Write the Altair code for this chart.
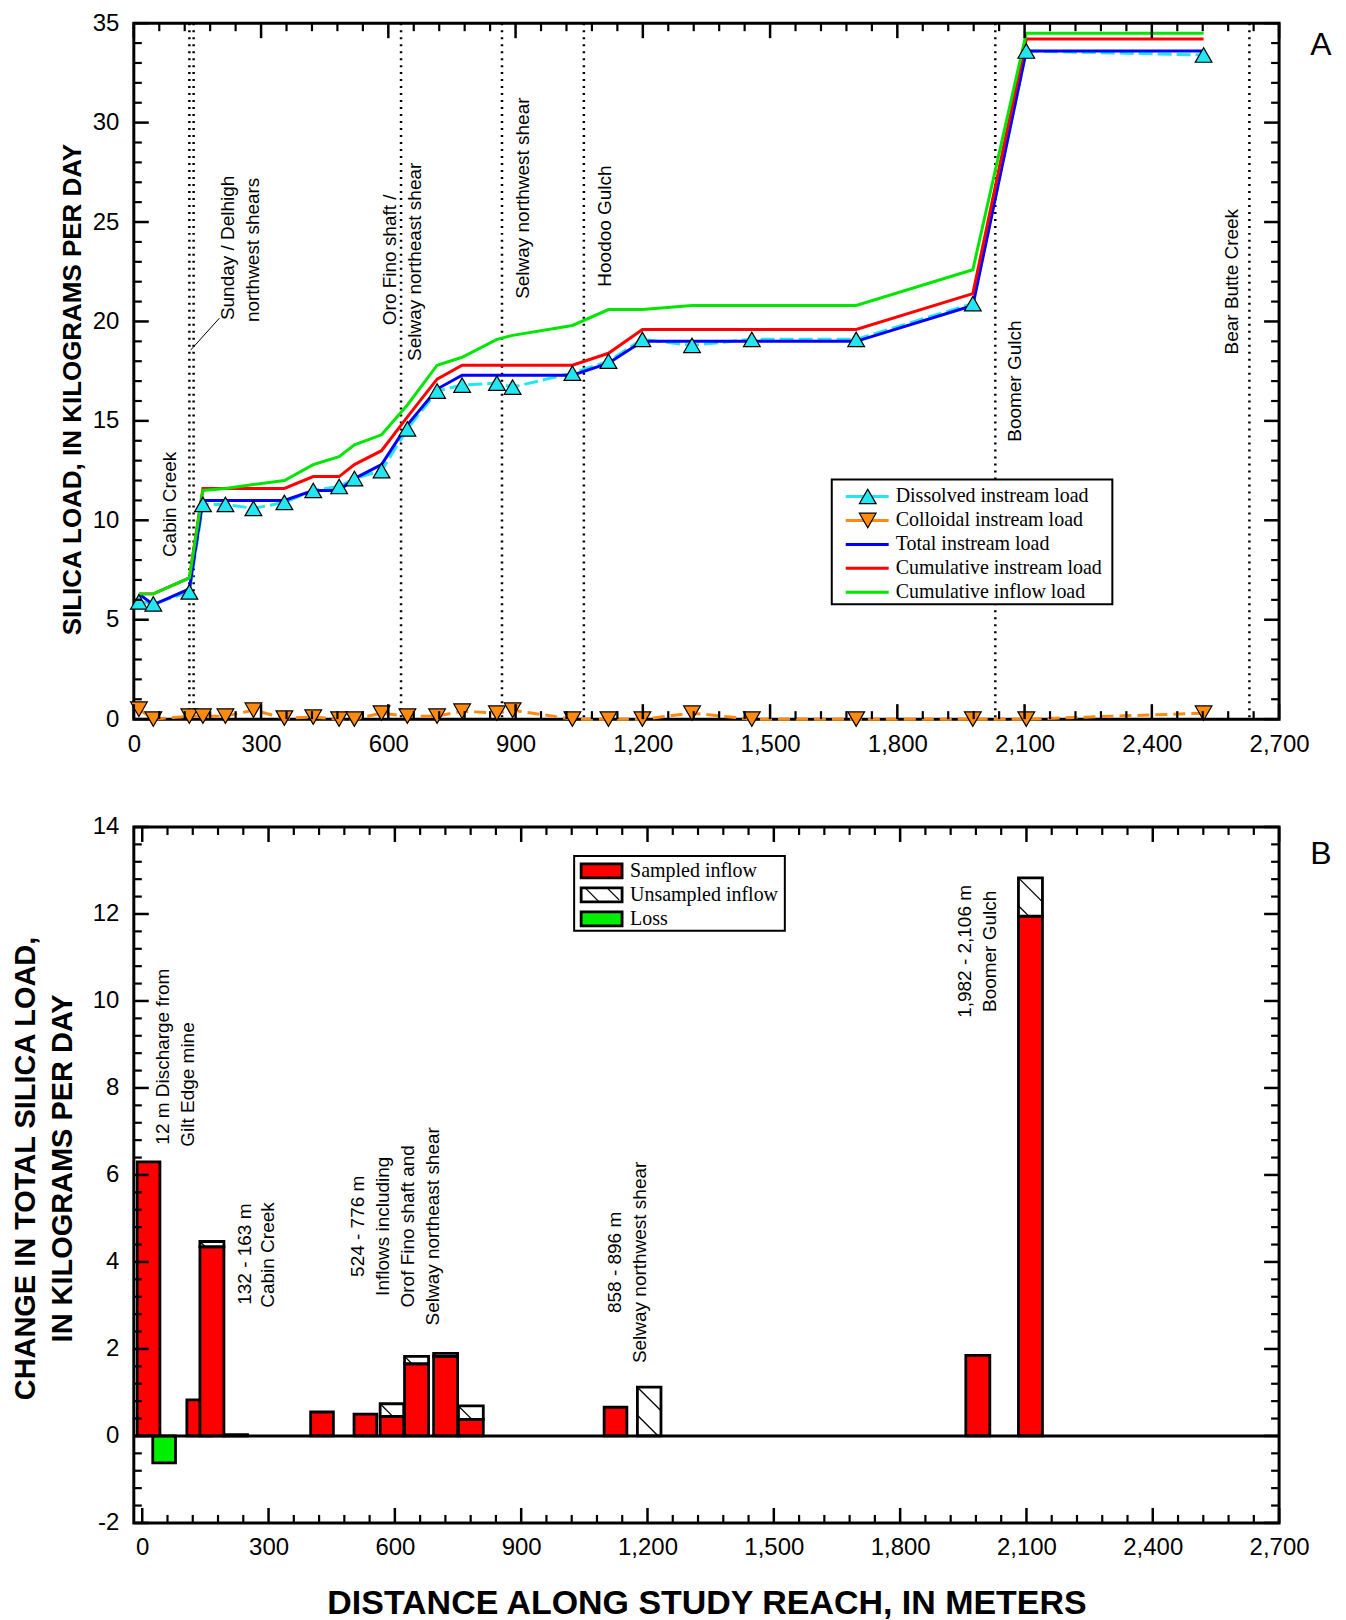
import math
import altair as alt
import pandas as pd

# ---------------- fonts / sizes ----------------
SANS = "Liberation Sans"
SERIF = "Liberation Serif"
W, H = 1147, 697

# ---------------- Panel A data ----------------
distance_m = [12, 46, 131, 163, 216, 282, 355, 423, 484, 520, 584, 645, 715,
              774, 856, 893, 1034, 1119, 1199, 1316, 1457, 1703, 1978, 2104, 2522]
dissolved = [5.9, 5.8, 6.4, 10.8, 10.8, 10.6, 10.9, 11.5, 11.7, 12.1, 12.5, 14.6, 16.5,
             16.8, 16.9, 16.7, 17.4, 18.0, 19.1, 18.8, 19.1, 19.1, 20.9, 33.6, 33.4]
colloidal = [0.5, 0.0, 0.15, 0.15, 0.15, 0.45, 0.05, 0.1, 0.0, 0.0, 0.3, 0.15, 0.15,
             0.4, 0.3, 0.45, 0.0, 0.0, 0.0, 0.3, 0.0, 0.0, 0.0, 0.0, 0.3]
total = [6.3, 5.75, 6.55, 11.0, 11.0, 11.0, 11.0, 11.5, 11.5, 12.1, 12.8, 14.8, 16.6,
         17.3, 17.3, 17.3, 17.3, 17.9, 19.0, 19.0, 19.0, 19.0, 20.8, 33.6, 33.6]
cum_instream = [6.3, 6.3, 7.1, 11.6, 11.6, 11.6, 11.6, 12.2, 12.2, 12.8, 13.5, 15.2, 17.1,
                17.8, 17.8, 17.8, 17.8, 18.4, 19.6, 19.6, 19.6, 19.6, 21.4, 34.2, 34.2]
cum_inflow = [6.3, 6.3, 7.1, 11.5, 11.6, 11.8, 12.0, 12.8, 13.2, 13.8, 14.3, 15.8, 17.8,
              18.2, 19.1, 19.3, 19.8, 20.6, 20.6, 20.8, 20.8, 20.8, 22.6, 34.5, 34.5]

series_names = ["Dissolved instream load", "Colloidal instream load", "Total instream load",
                "Cumulative instream load", "Cumulative inflow load"]
series_colors = ["#22E6F2", "#FF8A12", "#0000FF", "#FF0000", "#00E600"]

marker_lines_m = [131, 141, 630, 868, 1061, 2031, 2630]

top_note_text = ["Cabin Creek", "Sunday / Delhigh", "northwest shears", "Oro Fino shaft /",
                 "Selway northeast shear", "Selway northwest shear", "Hoodoo Gulch",
                 "Boomer Gulch", "Bear Butte Creek"]
top_note_x = [85, 221, 280, 603, 662, 917, 1112, 2077, 2588]
top_note_y = [10.8, 23.7, 23.6, 23.1, 23.0, 26.2, 24.8, 17.0, 22.0]
leader_x, leader_y, leader_x2, leader_y2 = [134], [18.56], [202], [20.17]

# ---------------- Panel B data ----------------
inflow_x0 = [-12, 106, 137, 194, 400, 503, 565, 623, 692, 751, 1097, 1176, 1956, 2081]
inflow_x1 = [42, 164, 194, 250, 454, 557, 621, 680, 749, 810, 1151, 1232, 2013, 2138]
sampled = [6.3, 0.83, 4.35, 0.03, 0.55, 0.5, 0.45, 1.66, 1.83, 0.38, 0.66, 0.0, 1.85, 11.95]
unsampled = [0.0, 0.0, 0.12, 0.0, 0.0, 0.0, 0.29, 0.17, 0.07, 0.31, 0.0, 1.12, 0.0, 0.88]
loss_x0 = [25]
loss_x1 = [79]
loss_val = [-0.62]

bar_kinds = ["Sampled inflow", "Unsampled inflow", "Loss"]
bar_fills = ["#FF0000", "#FFFFFF", "#00EE00"]

bot_note_text = ["12 m Discharge from", "Gilt Edge mine", "132 - 163 m", "Cabin Creek",
                 "524 - 776 m", "Inflows including", "Orof Fino shaft and",
                 "Selway northeast shear", "858 - 896 m", "Selway northwest shear",
                 "1,982 - 2,106 m", "Boomer Gulch"]
bot_note_x = [49, 108, 243, 299, 513, 572, 631, 690, 1122, 1183, 1954, 2013]
bot_note_y = [8.72, 8.08, 4.18, 4.16, 4.82, 4.82, 4.82, 4.82, 3.99, 3.99, 11.14, 11.14]

x_tick_labels = list(range(0, 2701, 300))
yA_tick_labels = list(range(0, 36, 5))
yB_tick_labels = list(range(-2, 15, 2))

# ---------------- scales & axes ----------------
XA = [0, 2700]
YA = [0, 35]
XB = [-20, 2700]
YB = [-2, 14]
xsA = alt.Scale(domain=XA, nice=False, zero=False)
ysA = alt.Scale(domain=YA, nice=False, zero=False)
xsB = alt.Scale(domain=XB, nice=False, zero=False)
ysB = alt.Scale(domain=YB, nice=False, zero=False)

LBL = 24


def x_axis(title=None, tpad=0):
    kw = dict(values=x_tick_labels, format=",d", ticks=False, tickSize=0, domain=False,
              grid=False, labelFont=SANS, labelFontSize=LBL, labelPadding=13,
              labelColor="black", labelFlush=False, labelOverlap=False)
    if title is None:
        kw["title"] = None
    else:
        kw.update(title=title, titleFont=SANS, titleFontSize=34, titleFontWeight="bold",
                  titlePadding=tpad, titleColor="black")
    return alt.Axis(**kw)


def y_axis(values, title, tpad, fs, ty, lh=37):
    return alt.Axis(values=values, format="d", ticks=False, tickSize=0, domain=False,
                    grid=False, labelFont=SANS, labelFontSize=LBL, labelPadding=15,
                    labelColor="black", labelOverlap=False,
                    labelExpr="replace(datum.label, '\u2212', '-')",
                    title=title, titleFont=SANS, titleFontSize=fs, titleFontWeight="bold",
                    titlePadding=tpad, titleColor="black", titleLineHeight=lh, titleY=ty)


AXA_X = x_axis()
AXA_Y = y_axis(yA_tick_labels, "SILICA LOAD, IN KILOGRAMS PER DAY", 7, 26, H / 2 + 18)
AXB_X = x_axis("DISTANCE ALONG  STUDY REACH, IN METERS", 27)
AXB_Y = y_axis(yB_tick_labels, ["CHANGE IN TOTAL SILICA LOAD,", "IN KILOGRAMS PER DAY"], 15, 29,
               H / 2 - 7)


def XA_(f):
    return alt.X(f, type="quantitative", scale=xsA, axis=AXA_X)


def YA_(f):
    return alt.Y(f, type="quantitative", scale=ysA, axis=AXA_Y)


def XB_(f):
    return alt.X(f, type="quantitative", scale=xsB, axis=AXB_X)


def YB_(f):
    return alt.Y(f, type="quantitative", scale=ysB, axis=AXB_Y)


def tick_layers(Xf, Yf, x_major, x_minor, y_major, y_minor):
    layers = []
    for vals, L, sw in [(x_major, 15, 2.5), (x_minor, 8, 2.2)]:
        df = pd.DataFrame({"v": vals})
        layers.append(alt.Chart(df).mark_rule(color="black", strokeWidth=sw).encode(
            x=Xf("v"), y=alt.value(H), y2=alt.value(H - L)))
        layers.append(alt.Chart(df).mark_rule(color="black", strokeWidth=sw).encode(
            x=Xf("v"), y=alt.value(0), y2=alt.value(L)))
    for vals, L, sw in [(y_major, 15, 2.5), (y_minor, 8, 2.2)]:
        df = pd.DataFrame({"v": vals})
        layers.append(alt.Chart(df).mark_rule(color="black", strokeWidth=sw).encode(
            y=Yf("v"), x=alt.value(0), x2=alt.value(L)))
        layers.append(alt.Chart(df).mark_rule(color="black", strokeWidth=sw).encode(
            y=Yf("v"), x=alt.value(W), x2=alt.value(W - L)))
    return layers


# ================= PANEL A =================
def axA(px):
    return XA[0] + px / W * (XA[1] - XA[0])


def ayA(py):
    return YA[1] - py / H * (YA[1] - YA[0])


SYM = 280

vl_df = pd.DataFrame({"d": marker_lines_m})
vlines = alt.Chart(vl_df).mark_rule(color="black", strokeWidth=2.5, strokeDash=[2, 5]).encode(
    x=XA_("d"), y=alt.value(0), y2=alt.value(H))

leader = alt.Chart(pd.DataFrame({"x": leader_x, "y": leader_y, "x2": leader_x2, "y2": leader_y2})).mark_rule(
    color="black", strokeWidth=1).encode(x=XA_("x"), y=YA_("y"), x2="x2:Q", y2="y2:Q")

series_vals = [dissolved, colloidal, total, cum_instream, cum_inflow]
line_layers = []
for name, col, vals in zip(series_names, series_colors, series_vals):
    df = pd.DataFrame({"dist": distance_m, "load": vals})
    kw = dict(color=col, strokeWidth=3)
    if name.startswith("Dissolved"):
        kw["strokeDash"] = [14, 5]
    if name.startswith("Colloidal"):
        kw["strokeDash"] = [12, 6]
    line_layers.append(alt.Chart(df).mark_line(**kw).encode(x=XA_("dist"), y=YA_("load")))

pts_diss = alt.Chart(pd.DataFrame({"dist": distance_m, "load": dissolved})).mark_point(
    shape="triangle-up", filled=True, fill=series_colors[0], stroke="black", strokeWidth=1.2,
    size=SYM, opacity=1).encode(x=XA_("dist"), y=YA_("load"))
pts_coll = alt.Chart(pd.DataFrame({"dist": distance_m, "load": colloidal})).mark_point(
    shape="triangle-down", filled=True, fill=series_colors[1], stroke="black", strokeWidth=1.2,
    size=SYM, opacity=1).encode(x=XA_("dist"), y=YA_("load"))

notesA = alt.Chart(pd.DataFrame({"t": top_note_text, "x": top_note_x, "y": top_note_y})).mark_text(
    angle=270, align="center", baseline="middle", font=SANS, fontSize=19, color="black").encode(
    x=XA_("x"), y=YA_("y"), text="t:N")

# legend A (layout in panel pixels converted to data units)
legA_box = alt.Chart(pd.DataFrame({"x": [axA(699)], "x2": [axA(980)], "y": [ayA(457)], "y2": [ayA(582)]})).mark_rect(
    fill="white", stroke="black", strokeWidth=2).encode(x=XA_("x"), x2="x2:Q", y=YA_("y"), y2="y2:Q")
legA_df = pd.DataFrame({
    "label": series_names,
    "y": [ayA(474 + i * 24) for i in range(5)],
    "x": [axA(713)] * 5, "x2": [axA(756)] * 5, "xs": [axA(735)] * 5, "xt": [axA(763)] * 5})
colA = alt.Color("label:N", scale=alt.Scale(domain=series_names, range=series_colors), legend=None)
legA_lines = alt.Chart(legA_df).mark_rule(strokeWidth=3).encode(
    x=XA_("x"), x2="x2:Q", y=YA_("y"), color=colA)
legA_sym1 = alt.Chart(legA_df.iloc[[0]]).mark_point(
    shape="triangle-up", filled=True, fill=series_colors[0], stroke="black", strokeWidth=1.2,
    size=SYM, opacity=1).encode(x=XA_("xs"), y=YA_("y"))
legA_sym2 = alt.Chart(legA_df.iloc[[1]]).mark_point(
    shape="triangle-down", filled=True, fill=series_colors[1], stroke="black", strokeWidth=1.2,
    size=SYM, opacity=1).encode(x=XA_("xs"), y=YA_("y"))
legA_text = alt.Chart(legA_df).mark_text(
    align="left", baseline="middle", font=SERIF, fontSize=20, color="black").encode(
    x=XA_("xt"), y=YA_("y"), text="label:N")

letterA = alt.Chart(pd.DataFrame({"t": ["A"]})).mark_text(
    font=SANS, fontSize=32, align="center", baseline="middle", color="black").encode(
    x=alt.value(W + 42), y=alt.value(22), text="t:N")

ticksA = tick_layers(XA_, YA_,
                     list(range(0, 2701, 300)), [v for v in range(60, 2700, 60) if v % 300],
                     list(range(0, 36, 5)), [v for v in range(1, 35) if v % 5])

panelA = alt.layer(vlines, leader, *line_layers, pts_diss, pts_coll, notesA,
                   legA_box, legA_lines, legA_sym1, legA_sym2, legA_text, *ticksA, letterA
                   ).properties(width=W, height=H)

# ================= PANEL B =================
PXM = W / (XB[1] - XB[0])
PXU = H / (YB[1] - YB[0])


def axB(px):
    return XB[0] + px / PXM


def ayB(py):
    return YB[1] - py / PXU


rows = []
for x0, x1, s, u in zip(inflow_x0, inflow_x1, sampled, unsampled):
    if s > 0:
        rows.append({"x0": x0, "x1": x1, "y0": 0.0, "y1": s, "kind": "Sampled inflow"})
    if u > 0:
        rows.append({"x0": x0, "x1": x1, "y0": s, "y1": s + u, "kind": "Unsampled inflow"})
for x0, x1, v in zip(loss_x0, loss_x1, loss_val):
    rows.append({"x0": x0, "x1": x1, "y0": v, "y1": 0.0, "kind": "Loss"})
bars_df = pd.DataFrame(rows)


def hatch(x0, x1, y0, y1, spacing=28.0):
    sx0, sx1 = (x0 - XB[0]) * PXM, (x1 - XB[0]) * PXM
    st, sb = (YB[1] - y1) * PXU, (YB[1] - y0) * PXU
    c0 = st - sx0
    kmin = math.ceil((st - sx1 - c0) / spacing)
    kmax = math.floor((sb - sx0 - c0) / spacing)
    segs = []
    for k in range(kmin, kmax + 1):
        c = c0 + k * spacing
        a = max(sx0, st - c)
        b = min(sx1, sb - c)
        if b - a > 2:
            segs.append({"hx": axB(a), "hy": ayB(a + c), "hx2": axB(b), "hy2": ayB(b + c)})
    return segs


hatch_rows = []
for r in rows:
    if r["kind"] == "Unsampled inflow":
        hatch_rows += hatch(r["x0"], r["x1"], r["y0"], r["y1"])
hatch_df = pd.DataFrame(hatch_rows)

fillB = alt.Color("kind:N", scale=alt.Scale(domain=bar_kinds, range=bar_fills), legend=None)

bars = alt.Chart(bars_df).mark_rect(stroke="black", strokeWidth=2.8, opacity=1).encode(
    x=XB_("x0"), x2="x1:Q", y=YB_("y0"), y2="y1:Q", fill=fillB)

hatches = alt.Chart(hatch_df).mark_rule(color="black", strokeWidth=1.3).encode(
    x=XB_("hx"), y=YB_("hy"), x2="hx2:Q", y2="hy2:Q")

zero_line = alt.Chart(pd.DataFrame({"z": [0.0]})).mark_rule(color="black", strokeWidth=3).encode(
    y=YB_("z"), x=alt.value(0), x2=alt.value(W))

notesB = alt.Chart(pd.DataFrame({"t": bot_note_text, "x": bot_note_x, "y": bot_note_y})).mark_text(
    angle=270, align="center", baseline="middle", font=SANS, fontSize=19, color="black").encode(
    x=XB_("x"), y=YB_("y"), text="t:N")

# legend B
legB_box = alt.Chart(pd.DataFrame({"x": [axB(441)], "x2": [axB(652)], "y": [ayB(29)], "y2": [ayB(104)]})).mark_rect(
    fill="white", stroke="black", strokeWidth=2).encode(x=XB_("x"), x2="x2:Q", y=YB_("y"), y2="y2:Q")
legB_rows = [44, 68, 92]
legB_df = pd.DataFrame({
    "kind": bar_kinds,
    "y": [ayB(p) for p in legB_rows],
    "ya": [ayB(p - 7) for p in legB_rows], "yb": [ayB(p + 7) for p in legB_rows],
    "x": [axB(448)] * 3, "x2": [axB(489)] * 3, "xt": [axB(497)] * 3})
legB_sw = alt.Chart(legB_df).mark_rect(stroke="black", strokeWidth=2.8, opacity=1).encode(
    x=XB_("x"), x2="x2:Q", y=YB_("ya"), y2="yb:Q", fill=fillB)
legB_hatch = alt.Chart(pd.DataFrame({
    "hx": [axB(452), axB(474)], "hy": [ayB(61), ayB(61)],
    "hx2": [axB(466), axB(486)], "hy2": [ayB(75), ayB(73)]})).mark_rule(
    color="black", strokeWidth=1.3).encode(x=XB_("hx"), y=YB_("hy"), x2="hx2:Q", y2="hy2:Q")
legB_text = alt.Chart(legB_df).mark_text(
    align="left", baseline="middle", font=SERIF, fontSize=20, color="black").encode(
    x=XB_("xt"), y=YB_("y"), text="kind:N")

letterB = alt.Chart(pd.DataFrame({"t": ["B"]})).mark_text(
    font=SANS, fontSize=32, align="center", baseline="middle", color="black").encode(
    x=alt.value(W + 42), y=alt.value(27), text="t:N")

ticksB = tick_layers(XB_, YB_,
                     list(range(0, 2701, 300)), [v for v in range(60, 2700, 60) if v % 300],
                     list(range(-2, 15, 2)),
                     [round(-2 + 0.4 * i, 1) for i in range(1, 40) if i % 5])

panelB = alt.layer(bars, hatches, zero_line, notesB, legB_box, legB_sw, legB_hatch, legB_text,
                   *ticksB, letterB).properties(width=W, height=H)

chart = alt.vconcat(panelA, panelB, spacing=108, bounds="flush").properties(
    padding={"left": 1, "top": 0, "right": 4, "bottom": 0}
).configure_view(stroke="black", strokeWidth=3)

chart.save("out.html", embed_options={"renderer": "svg", "actions": False})
